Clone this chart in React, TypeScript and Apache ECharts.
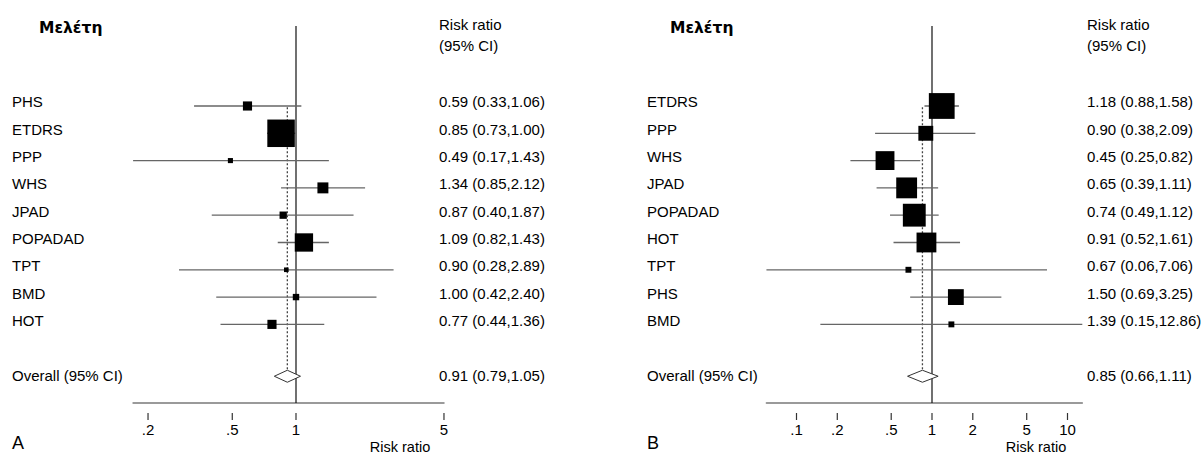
import React, { useEffect, useRef } from "react";
import * as echarts from "echarts";

// ---------- Panel A data ----------
const studiesA = ["PHS", "ETDRS", "PPP", "WHS", "JPAD", "POPADAD", "TPT", "BMD", "HOT"];
const rrA = [0.59, 0.85, 0.49, 1.34, 0.87, 1.09, 0.9, 1.0, 0.77];
const loA = [0.33, 0.73, 0.17, 0.85, 0.4, 0.82, 0.28, 0.42, 0.44];
const hiA = [1.06, 1.0, 1.43, 2.12, 1.87, 1.43, 2.89, 2.4, 1.36];
const weightA = [5.5, 49.7, 1.7, 7.9, 3.5, 22.1, 1.4, 2.7, 5.5];
const overallA = [0.91, 0.79, 1.05]; // estimate, lower, upper
const ticksA = [0.2, 0.5, 1, 5];
const tickLabelsA = [".2", ".5", "1", "5"];

// ---------- Panel B data ----------
const studiesB = ["ETDRS", "PPP", "WHS", "JPAD", "POPADAD", "HOT", "TPT", "PHS", "BMD"];
const rrB = [1.18, 0.9, 0.45, 0.65, 0.74, 0.91, 0.67, 1.5, 1.39];
const loB = [0.88, 0.38, 0.25, 0.39, 0.49, 0.52, 0.06, 0.69, 0.15];
const hiB = [1.58, 2.09, 0.82, 1.11, 1.12, 1.61, 7.06, 3.25, 12.86];
const weightB = [22.8, 7.6, 12.2, 14.9, 17.9, 13.5, 1.2, 8.6, 1.2];
const overallB = [0.85, 0.66, 1.11];
const ticksB = [0.1, 0.2, 0.5, 1, 2, 5, 10];
const tickLabelsB = [".1", ".2", ".5", "1", "2", "5", "10"];

const studyHeader = "Μελέτη";
const rrHeader1 = "Risk ratio";
const rrHeader2 = "(95% CI)";
const overallLabel = "Overall (95% CI)";
const axisTitle = "Risk ratio";

// ---------- layout ----------
const FONT = "Liberation Sans, Arial, Helvetica, sans-serif";
const HEAD_FONT = "DejaVu Sans, Liberation Sans, sans-serif";
const ROW_MIN = -2.93;
const ROW_MAX = 10.88;
const OVERALL_ROW = 9.9;
const DOT_TOP = 0.05;

const L10 = Math.log10;
const f2 = (v: number) => v.toFixed(2);

type Panel = {
  studies: string[];
  rr: number[];
  lo: number[];
  hi: number[];
  weight: number[];
  overall: number[];
  ticks: number[];
  tickLabels: string[];
  nullX: number;
  ppd: number;
  labelX: number;
  valueX: number;
  headX: number;
  k: number;
  letter: string;
  letterX: number;
  titleX: number;
};

const panels: Panel[] = [
  {
    studies: studiesA, rr: rrA, lo: loA, hi: hiA, weight: weightA, overall: overallA,
    ticks: ticksA, tickLabels: tickLabelsA,
    nullX: 296, ppd: 211.7, labelX: 12, valueX: 439, headX: 39, k: 3.9,
    letter: "A", letterX: 12, titleX: 400,
  },
  {
    studies: studiesB, rr: rrB, lo: loB, hi: hiB, weight: weightB, overall: overallB,
    ticks: ticksB, tickLabels: tickLabelsB,
    nullX: 932, ppd: 135.5, labelX: 647, valueX: 1087, headX: 670, k: 5.4,
    letter: "B", letterX: 647, titleX: 1036,
  },
];

function buildOption() {
  const grid: any[] = [];
  const xAxis: any[] = [];
  const yAxis: any[] = [];
  const series: any[] = [];
  const graphic: any[] = [];

  panels.forEach((p, i) => {
    const xmin = L10(Math.min(...p.lo, ...p.ticks));
    const xmax = L10(Math.max(...p.hi, ...p.ticks));
    grid.push({
      left: p.nullX + xmin * p.ppd,
      width: (xmax - xmin) * p.ppd,
      top: 26,
      bottom: 51,
      containLabel: false,
    });
    // axis line
    xAxis.push({
      type: "value",
      gridIndex: i,
      min: xmin,
      max: xmax,
      position: "bottom",
      axisLine: { show: true, onZero: false, lineStyle: { color: "#7a7a7a", width: 1.6 } },
      axisTick: { show: false },
      axisLabel: { show: false },
      splitLine: { show: false },
    });
    // tick labels (offset below the line)
    const tv = p.ticks.map((t) => L10(t));
    xAxis.push({
      type: "value",
      gridIndex: i,
      min: xmin,
      max: xmax,
      position: "bottom",
      offset: 11,
      axisLine: { show: false, onZero: false },
      axisTick: { show: false },
      axisLabel: {
        show: true,
        customValues: tv,
        margin: 8,
        fontSize: 15,
        fontFamily: FONT,
        color: "#000",
        formatter: (v: number) => {
          const idx = tv.findIndex((t) => Math.abs(t - v) < 1e-6);
          return idx >= 0 ? p.tickLabels[idx] : "";
        },
      },
      splitLine: { show: false },
    });
    yAxis.push({
      type: "value",
      gridIndex: i,
      min: ROW_MIN,
      max: ROW_MAX,
      inverse: true,
      show: false,
    });

    const xi = 2 * i;
    // null line at RR = 1
    series.push({
      type: "line",
      xAxisIndex: xi,
      yAxisIndex: i,
      data: [[0, ROW_MIN], [0, ROW_MAX]],
      symbol: "none",
      silent: true,
      lineStyle: { color: "#111", width: 1.2 },
      z: 2,
    });
    // dotted line at overall estimate
    series.push({
      type: "line",
      xAxisIndex: xi,
      yAxisIndex: i,
      data: [[L10(p.overall[0]), DOT_TOP], [L10(p.overall[0]), OVERALL_ROW]],
      symbol: "none",
      silent: true,
      lineStyle: { color: "#444", width: 1.3, type: [2, 2] },
      z: 2,
    });
    // tick marks (short, detached below the axis line)
    series.push({
      type: "custom",
      xAxisIndex: xi,
      yAxisIndex: i,
      clip: false,
      silent: true,
      z: 5,
      encode: { x: 0, y: 1 },
      data: tv.map((v) => [v, ROW_MAX]),
      renderItem: (params: any, api: any) => {
        const c = api.coord([api.value(0), api.value(1)]);
        return {
          type: "rect",
          shape: { x: c[0] - 0.6, y: c[1] + 10, width: 1.2, height: 7 },
          style: { fill: "#333" },
        };
      },
    });
    // studies
    series.push({
      type: "custom",
      xAxisIndex: xi,
      yAxisIndex: i,
      clip: false,
      silent: true,
      z: 3,
      encode: { x: [1, 2, 3], y: 0 },
      data: p.studies.map((_, j) => [j, L10(p.lo[j]), L10(p.hi[j]), L10(p.rr[j]), p.weight[j]]),
      renderItem: (params: any, api: any) => {
        const j = params.dataIndex;
        const row = api.value(0);
        const a = api.coord([api.value(1), row]);
        const b = api.coord([api.value(2), row]);
        const c = api.coord([api.value(3), row]);
        const s = p.k * Math.sqrt(api.value(4));
        return {
          type: "group",
          children: [
            {
              type: "line",
              shape: { x1: a[0], y1: a[1], x2: b[0], y2: b[1] },
              style: { stroke: "#666", lineWidth: 1.3 },
            },
            {
              type: "rect",
              shape: { x: c[0] - s / 2, y: c[1] - s / 2, width: s, height: s },
              style: { fill: "#000" },
            },
            {
              type: "text",
              style: {
                text: p.studies[j],
                x: p.labelX,
                y: c[1] - 4,
                fill: "#000",
                fontSize: 15,
                fontFamily: FONT,
                textAlign: "left",
                textVerticalAlign: "middle",
              },
            },
            {
              type: "text",
              style: {
                text: `${f2(p.rr[j])} (${f2(p.lo[j])},${f2(p.hi[j])})`,
                x: p.valueX,
                y: c[1] - 4,
                fill: "#000",
                fontSize: 15,
                fontFamily: FONT,
                textAlign: "left",
                textVerticalAlign: "middle",
              },
            },
          ],
        };
      },
    });
    // overall diamond
    series.push({
      type: "custom",
      xAxisIndex: xi,
      yAxisIndex: i,
      clip: false,
      silent: true,
      z: 4,
      encode: { x: [1, 2, 3], y: 0 },
      data: [[OVERALL_ROW, L10(p.overall[1]), L10(p.overall[2]), L10(p.overall[0])]],
      renderItem: (params: any, api: any) => {
        const row = api.value(0);
        const a = api.coord([api.value(1), row]);
        const b = api.coord([api.value(2), row]);
        const c = api.coord([api.value(3), row]);
        const h = 6;
        return {
          type: "group",
          children: [
            {
              type: "polygon",
              shape: { points: [[a[0], c[1]], [c[0], c[1] - h], [b[0], c[1]], [c[0], c[1] + h]] },
              style: { fill: "#fff", stroke: "#333", lineWidth: 1 },
            },
            {
              type: "text",
              style: {
                text: overallLabel,
                x: p.labelX,
                y: c[1] - 1,
                fill: "#000",
                fontSize: 15,
                fontFamily: FONT,
                textAlign: "left",
                textVerticalAlign: "middle",
              },
            },
            {
              type: "text",
              style: {
                text: `${f2(p.overall[0])} (${f2(p.overall[1])},${f2(p.overall[2])})`,
                x: p.valueX,
                y: c[1] - 1,
                fill: "#000",
                fontSize: 15,
                fontFamily: FONT,
                textAlign: "left",
                textVerticalAlign: "middle",
              },
            },
          ],
        };
      },
    });

    // headers and titles
    const txt = (
      text: string, x: number, y: number, size: number,
      weight = "normal", align = "left", family = FONT
    ) => ({
      type: "text",
      silent: true,
      style: {
        text,
        x,
        y,
        fill: "#000",
        fontSize: size,
        fontWeight: weight,
        fontFamily: family,
        textAlign: align,
        textVerticalAlign: "middle",
      },
    });
    graphic.push(txt(studyHeader, p.headX, 28, 15.5, "bold", "left", HEAD_FONT));
    graphic.push(txt(rrHeader1, p.valueX, 24, 15));
    graphic.push(txt(rrHeader2, p.valueX, 45, 15));
    graphic.push(txt(axisTitle, p.titleX, 446.5, 14.5, "normal", "center"));
    graphic.push(txt(p.letter, p.letterX, 443, 18));
  });

  return {
    animation: false,
    backgroundColor: "#fff",
    grid,
    xAxis,
    yAxis,
    series,
    graphic,
  };
}

export default function App() {
  const ref = useRef<HTMLDivElement>(null);
  useEffect(() => {
    if (!ref.current) return;
    const chart = echarts.init(ref.current, undefined, { renderer: "svg" });
    chart.setOption(buildOption() as any);
    return () => chart.dispose();
  }, []);
  return (
    <div
      ref={ref}
      style={{ position: "absolute", left: 0, top: 0, width: 1201, height: 454, background: "#fff" }}
    />
  );
}
